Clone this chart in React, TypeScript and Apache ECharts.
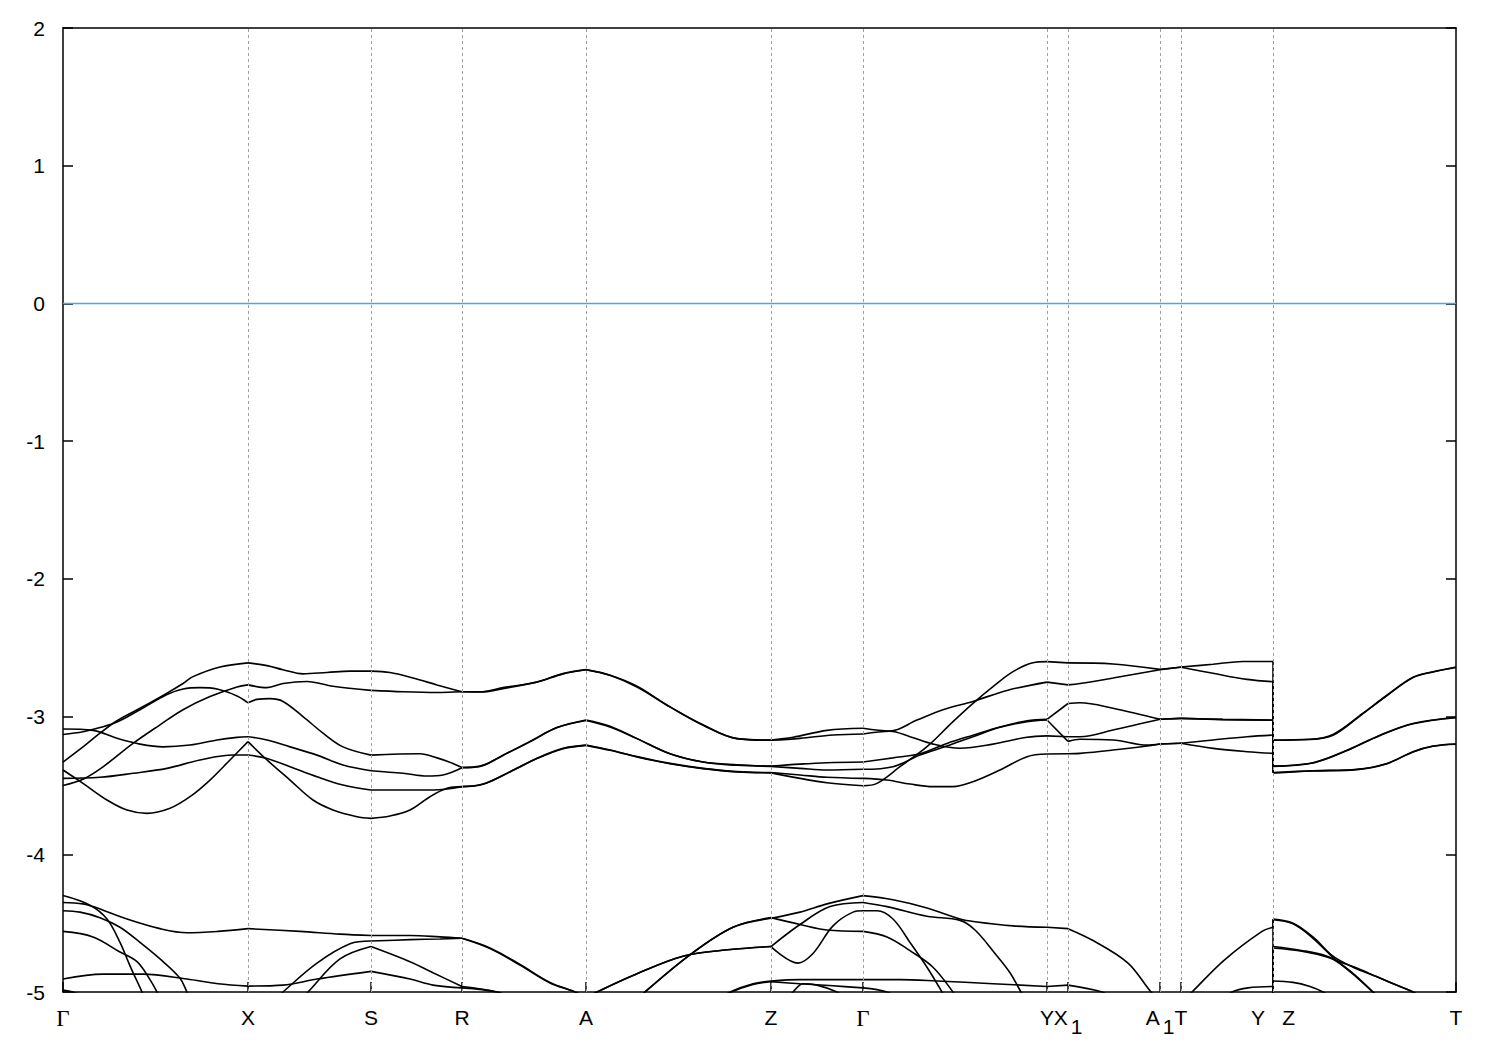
import React, { useEffect, useRef } from "react";
import * as echarts from "echarts";

// High-symmetry points along the k-path (path length units)
const kTicks = [0, 1.85, 3.08, 3.99, 5.23, 7.08, 8.0, 9.84, 10.05, 10.97, 11.18, 12.1, 13.93];
const kLabels = ["Γ", "X", "S", "R", "A", "Z", "Γ", "Y", "X_1", "A_1", "T", "Y|Z", "T"];
const energyMin = -5;
const energyMax = 2;
const energyStep = 1;
const fermiLevel = 0;

// Upper valence bands (k, E in eV)
const band1: number[][] = [
  [0, -3.33], [0.2, -3.22], [0.37, -3.12], [0.54, -3.03], [0.77, -2.94], [1.04, -2.83], [1.2, -2.76], [1.3, -2.71], [1.57, -2.64], [1.85, -2.61],
  [2.04, -2.63], [2.2, -2.66], [2.4, -2.69], [2.64, -2.68], [2.87, -2.67], [3.08, -2.67],
  [3.27, -2.68], [3.5, -2.72], [3.74, -2.77], [3.94, -2.81], [3.99, -2.82],
  [4.17, -2.82], [4.4, -2.79], [4.74, -2.75], [5.0, -2.69], [5.23, -2.66],
  [5.47, -2.7], [5.74, -2.78], [6.07, -2.93], [6.4, -3.06], [6.74, -3.16], [7.08, -3.17],
  [7.3, -3.15], [7.64, -3.1], [8.0, -3.085],
  [8.27, -3.105], [8.54, -3.025], [8.8, -2.95], [9.1, -2.89], [9.44, -2.81], [9.84, -2.75],
  [10.05, -2.77],
  [10.17, -2.76], [10.5, -2.72], [10.97, -2.66],
  [11.18, -2.64],
  [11.5, -2.62], [11.8, -2.6], [12.1, -2.6],
  [12.1, -3.17],
  [12.47, -3.165], [12.7, -3.13], [13.0, -2.975], [13.24, -2.845], [13.5, -2.715], [13.7, -2.675], [13.93, -2.64],
];
const band2: number[][] = [
  [0, -3.13], [0.2, -3.11], [0.37, -3.08], [0.54, -3.04], [0.77, -2.95], [1.04, -2.84], [1.2, -2.8], [1.37, -2.79], [1.54, -2.8], [1.74, -2.85], [1.85, -2.9],
  [1.94, -2.875], [2.07, -2.87], [2.2, -2.89], [2.4, -3.0], [2.6, -3.12], [2.8, -3.22], [3.08, -3.28],
  [3.57, -3.27], [3.74, -3.3], [3.9, -3.34], [3.99, -3.37],
  [4.17, -3.36], [4.4, -3.28], [4.67, -3.18], [4.94, -3.08], [5.23, -3.025],
  [5.47, -3.07], [5.74, -3.16], [6.07, -3.27], [6.4, -3.33], [6.74, -3.35], [7.08, -3.36],
  [7.37, -3.345], [7.64, -3.335], [8.0, -3.33],
  [8.3, -3.3], [8.57, -3.27], [8.84, -3.195], [9.1, -3.135], [9.37, -3.075], [9.64, -3.03], [9.84, -3.02],
  [10.05, -2.905],
  [10.17, -2.9], [10.5, -2.94], [10.97, -3.02],
  [11.18, -3.013],
  [11.6, -3.02], [12.1, -3.025],
  [12.1, -3.36],
  [12.5, -3.335], [12.84, -3.245], [13.17, -3.135], [13.5, -3.05], [13.93, -3.005],
];
const band3: number[][] = [
  [0, -3.5], [0.2, -3.455], [0.4, -3.365], [0.7, -3.195], [0.97, -3.06], [1.2, -2.95], [1.47, -2.855], [1.74, -2.785], [1.85, -2.77],
  [2.04, -2.79], [2.2, -2.76], [2.44, -2.745], [2.7, -2.78], [3.08, -2.81],
  [3.4, -2.82], [3.74, -2.825], [3.99, -2.82],
  [4.17, -2.822], [4.4, -2.797], [4.74, -2.749], [5.0, -2.688], [5.23, -2.659],
  [5.47, -2.7], [5.74, -2.785], [6.07, -2.93], [6.4, -3.063], [6.74, -3.16], [7.08, -3.172],
  [7.37, -3.158], [7.7, -3.134], [8.0, -3.127],
  [8.27, -3.107], [8.47, -3.146], [8.7, -3.2], [8.97, -3.23], [9.3, -3.2], [9.64, -3.15], [9.84, -3.14],
  [10.05, -3.146],
  [10.17, -3.146], [10.5, -3.098], [10.97, -3.02],
  [11.18, -3.013],
  [11.6, -3.022], [12.1, -3.027],
  [12.1, -3.362],
  [12.5, -3.337], [12.84, -3.247], [13.17, -3.137], [13.5, -3.052], [13.93, -3.008],
];
const band4: number[][] = [
  [0, -3.09], [0.3, -3.1], [0.54, -3.158], [0.77, -3.2], [1.0, -3.22], [1.27, -3.207], [1.54, -3.17], [1.74, -3.151], [1.85, -3.146],
  [2.04, -3.17], [2.27, -3.22], [2.54, -3.28], [2.8, -3.352], [3.08, -3.393],
  [3.4, -3.412], [3.64, -3.432], [3.8, -3.424], [3.99, -3.371],
  [4.17, -3.362], [4.4, -3.282], [4.67, -3.184], [4.94, -3.08], [5.23, -3.028],
  [5.47, -3.075], [5.74, -3.16], [6.07, -3.27], [6.4, -3.33], [6.74, -3.354], [7.08, -3.362],
  [7.37, -3.376], [7.64, -3.388], [8.0, -3.383],
  [8.3, -3.364], [8.57, -3.279], [8.84, -3.214], [9.1, -3.146], [9.37, -3.078], [9.64, -3.037], [9.84, -3.025],
  [10.05, -3.18],
  [10.17, -3.165], [10.5, -3.17], [10.84, -3.207], [10.97, -3.199],
  [11.18, -3.194],
  [11.5, -3.231], [11.84, -3.255], [12.1, -3.267],
  [12.1, -3.407],
  [12.5, -3.393], [12.94, -3.383], [13.24, -3.34], [13.5, -3.255], [13.7, -3.214], [13.93, -3.199],
];
const band5: number[][] = [
  [0, -3.388], [0.2, -3.485], [0.44, -3.606], [0.64, -3.679], [0.84, -3.703], [1.07, -3.666], [1.27, -3.582], [1.47, -3.461], [1.67, -3.315], [1.85, -3.182],
  [2.04, -3.315], [2.27, -3.461], [2.5, -3.606], [2.7, -3.678], [2.94, -3.727], [3.08, -3.739],
  [3.27, -3.722], [3.47, -3.679], [3.67, -3.582], [3.84, -3.521], [3.99, -3.509],
  [4.2, -3.49], [4.47, -3.4], [4.74, -3.303], [5.0, -3.231], [5.23, -3.207],
  [5.47, -3.243], [5.74, -3.291], [6.07, -3.34], [6.4, -3.376], [6.74, -3.4], [7.08, -3.407],
  [7.37, -3.424], [7.64, -3.441], [8.0, -3.449],
  [8.24, -3.461], [8.47, -3.49], [8.7, -3.509], [8.9, -3.509], [9.1, -3.473], [9.37, -3.388], [9.64, -3.291], [9.84, -3.272],
  [10.05, -3.27],
  [10.17, -3.267], [10.5, -3.243], [10.84, -3.214], [10.97, -3.199],
  [11.18, -3.194],
  [11.5, -3.17], [11.84, -3.146], [12.1, -3.134],
  [12.1, -3.41],
  [12.5, -3.395], [12.94, -3.385], [13.24, -3.342], [13.5, -3.257], [13.7, -3.216], [13.93, -3.201],
];
const band6: number[][] = [
  [0, -3.449], [0.37, -3.441], [0.7, -3.412], [1.04, -3.376], [1.37, -3.315], [1.7, -3.279], [1.85, -3.279],
  [2.04, -3.304], [2.27, -3.364], [2.54, -3.437], [2.8, -3.497], [3.08, -3.533],
  [3.7, -3.533], [3.99, -3.509],
  [4.2, -3.492], [4.47, -3.402], [4.74, -3.305], [5.0, -3.233], [5.23, -3.209],
  [5.47, -3.245], [5.74, -3.293], [6.07, -3.342], [6.4, -3.378], [6.74, -3.402], [7.08, -3.409],
  [7.37, -3.449], [7.64, -3.48], [8.0, -3.502],
  [8.14, -3.485], [8.37, -3.364], [8.64, -3.219], [8.9, -3.037], [9.1, -2.904], [9.3, -2.783], [9.5, -2.674], [9.7, -2.609], [9.84, -2.601],
  [10.05, -2.61],
  [10.5, -2.618], [10.97, -2.657],
  [11.18, -2.642],
  [11.5, -2.686], [11.84, -2.73], [12.1, -2.747],
  [12.1, -3.172],
  [12.47, -3.167], [12.7, -3.136], [13.0, -2.978], [13.24, -2.847], [13.5, -2.717], [13.7, -2.676], [13.93, -2.644],
];

// Lower bands (visible parts, leaving the window below -5 eV)
const low1: number[][] = [[0, -4.35], [0.2, -4.36], [0.3, -4.38], [0.64, -4.47], [0.97, -4.54], [1.24, -4.57], [1.55, -4.56], [1.85, -4.54], [2.37, -4.56], [2.77, -4.58], [3.08, -4.59], [3.47, -4.59], [3.77, -4.6], [3.99, -4.61], [4.27, -4.68], [4.57, -4.8], [4.87, -4.93], [5.12, -5.0], [5.23, -5.04]];
const low2: number[][] = [[0, -4.3], [0.27, -4.37], [0.44, -4.47], [0.57, -4.64], [0.67, -4.81], [0.79, -5.0], [0.85, -5.1]];
const low3: number[][] = [[0, -4.56], [0.3, -4.6], [0.57, -4.71], [0.74, -4.78], [0.87, -4.91], [0.94, -5.0], [1.0, -5.08]];
const low4: number[][] = [[0, -4.41], [0.17, -4.42], [0.37, -4.46], [0.57, -4.53], [0.77, -4.64], [0.97, -4.76], [1.17, -4.9], [1.24, -5.0], [1.3, -5.08]];
const low5: number[][] = [[0, -4.906], [0.4, -4.87], [0.8, -4.87], [1.24, -4.906], [1.55, -4.94], [1.85, -4.957], [2.2, -4.95], [2.54, -4.906], [3.08, -4.85], [3.47, -4.906], [3.7, -4.95], [3.99, -4.97], [4.34, -5.0], [4.5, -5.05]];
const low6: number[][] = [[0, -4.986], [0.1, -5.0], [0.2, -5.03]];
const low7: number[][] = [[2.15, -5.04], [2.2, -5.0], [2.54, -4.79], [2.87, -4.65], [3.08, -4.63], [3.47, -4.62], [3.77, -4.615], [3.99, -4.61], [4.27, -4.685], [4.57, -4.805], [4.87, -4.935], [5.12, -5.0], [5.23, -5.04]];
const low8: number[][] = [[2.4, -5.04], [2.45, -5.0], [2.77, -4.76], [3.08, -4.67], [3.47, -4.78], [3.7, -4.86], [3.99, -4.96], [4.34, -5.0], [4.5, -5.05]];
const low9: number[][] = [[5.23, -5.04], [5.34, -5.0], [5.7, -4.88], [6.2, -4.74], [6.7, -4.69], [7.08, -4.67], [7.35, -4.79], [7.5, -4.72], [7.7, -4.52], [7.9, -4.42], [8.0, -4.41], [8.14, -4.41], [8.3, -4.47], [8.47, -4.64], [8.64, -4.82], [8.79, -5.0], [8.85, -5.08]];
const low10: number[][] = [[5.75, -5.06], [5.82, -5.0], [6.27, -4.73], [6.7, -4.53], [7.08, -4.46], [7.37, -4.51], [7.64, -4.55], [8.0, -4.56], [8.24, -4.6], [8.47, -4.7], [8.7, -4.82], [8.9, -5.0], [8.95, -5.06]];
const low11: number[][] = [[5.75, -5.06], [5.82, -5.0], [6.27, -4.73], [6.7, -4.53], [7.08, -4.465], [7.37, -4.42], [7.64, -4.36], [8.0, -4.3], [8.3, -4.33], [8.64, -4.39], [8.97, -4.47], [9.12, -4.49], [9.5, -4.52], [9.84, -4.53], [10.05, -4.54], [10.31, -4.63], [10.65, -4.79], [10.88, -5.0], [10.97, -5.06]];
const low12: number[][] = [[5.23, -5.045], [5.34, -5.0], [5.7, -4.88], [6.2, -4.74], [6.7, -4.69], [7.08, -4.67], [7.37, -4.51], [7.67, -4.38], [8.0, -4.35], [8.24, -4.38], [8.64, -4.45], [8.97, -4.48], [9.12, -4.55], [9.32, -4.72], [9.47, -4.86], [9.58, -5.0], [9.65, -5.08]];
const low13: number[][] = [[6.55, -5.06], [6.67, -5.0], [6.9, -4.94], [7.08, -4.92], [7.37, -4.91], [8.0, -4.91], [8.37, -4.91], [8.74, -4.92], [9.3, -4.94], [9.84, -4.96], [10.05, -4.95], [10.39, -5.0], [10.5, -5.05]];
const low14: number[][] = [[6.55, -5.065], [6.67, -5.005], [6.9, -4.945], [7.08, -4.925], [7.37, -4.94], [7.7, -4.955], [8.0, -4.97], [8.24, -5.0], [8.35, -5.05]];
const low15: number[][] = [[7.25, -5.04], [7.3, -5.0], [7.4, -4.94], [7.54, -4.95], [7.74, -5.0], [7.8, -5.04]];
const low16: number[][] = [[11.2, -5.06], [11.29, -5.0], [11.61, -4.77], [11.99, -4.56], [12.1, -4.53], [12.1, -4.47], [12.3, -4.5], [12.5, -4.6], [12.7, -4.74], [12.9, -4.82], [13.14, -4.89], [13.37, -4.96], [13.5, -5.0], [13.6, -5.05]];
const low17: number[][] = [[11.62, -5.05], [11.69, -5.0], [11.85, -4.97], [12.1, -4.96], [12.1, -4.475], [12.3, -4.505], [12.5, -4.61], [12.7, -4.75], [12.77, -4.79], [12.94, -4.89], [13.1, -5.0], [13.2, -5.06]];
const low18: number[][] = [[12.1, -5.1], [12.1, -4.67], [12.4, -4.7], [12.64, -4.74], [12.77, -4.795], [12.94, -4.895], [13.1, -5.0], [13.2, -5.06]];
const low19: number[][] = [[12.1, -5.1], [12.1, -4.68], [12.4, -4.705], [12.64, -4.745], [12.8, -4.79], [12.95, -4.83], [13.14, -4.89], [13.37, -4.96], [13.5, -5.0], [13.6, -5.05]];
const low20: number[][] = [[12.1, -5.1], [12.1, -4.92], [12.3, -4.93], [12.47, -4.96], [12.6, -5.0], [12.7, -5.05]];

const bands = [band1, band2, band3, band4, band5, band6,
  low1, low2, low3, low4, low5, low6, low7, low8, low9, low10,
  low11, low12, low13, low14, low15, low16, low17, low18, low19, low20];

const isSym = (k: number) => kTicks.some((t) => Math.abs(t - k) < 1e-6);

function splitSegments(band: number[][]): number[][][] {
  const segs: number[][][] = [];
  let cur: number[][] = [];
  band.forEach((p, i) => {
    cur.push(p);
    if (i > 0 && isSym(p[0]) && cur.length > 1) {
      segs.push(cur);
      cur = [p];
    }
  });
  if (cur.length > 1) segs.push(cur);
  return segs;
}

function labelFor(value: number): string {
  const idx: number[] = [];
  kTicks.forEach((t, i) => { if (Math.abs(t - value) < 1e-6) idx.push(i); });
  if (!idx.length) return "";
  const raw = kLabels[idx[0]];
  if (raw === "Γ") return "{g|Γ}";
  if (raw === "Y|Z") return "{m|Y   Z}";
  if (raw.indexOf("_") >= 0) {
    const [a, b] = raw.split("_");
    return `{m|${a}}{s|${b}}`;
  }
  return `{m|${raw}}`;
}

const FONT = "Liberation Sans, Arial, sans-serif";
const FS = 21;

export default function App() {
  const ref = useRef<HTMLDivElement>(null);
  useEffect(() => {
    if (!ref.current) return;
    const chart = echarts.init(ref.current, undefined, { renderer: "svg" });
    const kMin = kTicks[0];
    const kMax = kTicks[kTicks.length - 1];
    const uniqueTicks = kTicks.filter((t, i) => kTicks.findIndex((u) => Math.abs(u - t) < 1e-6) === i);
    const innerTicks = uniqueTicks.slice(1, -1);

    const series: any[] = [];
    bands.forEach((b) => {
      splitSegments(b).forEach((seg) => {
        series.push({
          type: "line",
          data: seg,
          symbol: "none",
          showSymbol: false,
          smooth: 0.35,
          silent: true,
          clip: true,
          z: 3,
          lineStyle: { color: "#000", width: 1.6 },
        });
      });
    });
    series.push({
      type: "line",
      data: [[kMin, fermiLevel], [kMax, fermiLevel]],
      symbol: "none",
      silent: true,
      z: 2,
      lineStyle: { color: "#4aa8e0", width: 1.5 },
      markLine: {
        silent: true,
        symbol: ["none", "none"],
        label: { show: false },
        lineStyle: { color: "#a0a0a0", type: [3, 3], width: 1 },
        data: innerTicks.map((k) => ({ xAxis: k })),
      },
    });

    const axisLineStyle = { color: "#000", width: 1.5 };
    chart.setOption({
      animation: false,
      backgroundColor: "#ffffff",
      grid: { left: 63, right: 44, top: 28, bottom: 58 },
      xAxis: [
        {
          type: "value",
          min: kMin,
          max: kMax,
          position: "bottom",
          axisLine: { show: true, onZero: false, lineStyle: axisLineStyle },
          axisTick: { show: true, inside: true, length: 10, customValues: uniqueTicks, lineStyle: axisLineStyle },
          axisLabel: {
            show: true,
            customValues: uniqueTicks,
            margin: 15,
            formatter: (v: number) => labelFor(v),
            rich: {
              m: { fontFamily: FONT, fontSize: FS, color: "#000", verticalAlign: "top" },
              g: { fontFamily: "Liberation Serif, DejaVu Serif, serif", fontSize: FS + 2, color: "#000", verticalAlign: "top" },
              s: { fontFamily: FONT, fontSize: FS, color: "#000", verticalAlign: "top", padding: [9, 0, 0, 3] },
            },
          },
          splitLine: { show: false },
        },
        {
          type: "value",
          min: kMin,
          max: kMax,
          position: "top",
          axisLine: { show: true, onZero: false, lineStyle: axisLineStyle },
          axisTick: { show: false },
          axisLabel: { show: false },
          splitLine: { show: false },
        },
      ],
      yAxis: [
        {
          type: "value",
          min: energyMin,
          max: energyMax,
          interval: energyStep,
          position: "left",
          axisLine: { show: true, onZero: false, lineStyle: axisLineStyle },
          axisTick: { show: true, inside: true, length: 10, lineStyle: axisLineStyle },
          axisLabel: { margin: 18, fontSize: FS, fontFamily: FONT, color: "#000" },
          splitLine: { show: false },
        },
        {
          type: "value",
          min: energyMin,
          max: energyMax,
          interval: energyStep,
          position: "right",
          axisLine: { show: true, onZero: false, lineStyle: axisLineStyle },
          axisTick: { show: true, inside: true, length: 10, lineStyle: axisLineStyle },
          axisLabel: { show: false },
          splitLine: { show: false },
        },
      ],
      series,
    });
    return () => chart.dispose();
  }, []);
  return (
    <div
      ref={ref}
      style={{ position: "fixed", left: 0, top: 0, width: 1500, height: 1050, background: "#fff" }}
    />
  );
}
